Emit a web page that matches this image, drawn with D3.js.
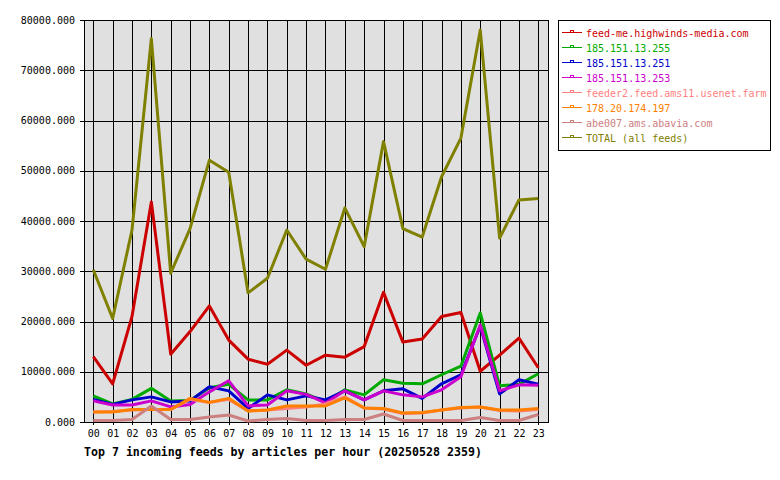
<!DOCTYPE html>
<html>
<head>
<meta charset="utf-8">
<script src="https://cdn.jsdelivr.net/npm/d3@7"></script>
<style>
  body { margin: 0; background: #fff; }
  svg { display: block; }
  text { font-family: "DejaVu Sans Mono", monospace; }
</style>
</head>
<body>
<svg width="780" height="480"></svg>
<script>
const hours = ['00','01','02','03','04','05','06','07','08','09','10','11',
               '12','13','14','15','16','17','18','19','20','21','22','23'];

const feedNames = ['feed-me.highwinds-media.com', '185.151.13.255', '185.151.13.251',
                   '185.151.13.253', 'feeder2.feed.ams11.usenet.farm', '178.20.174.197',
                   'abe007.ams.abavia.com', 'TOTAL (all feeds)'];
const feedColors = ['#cc0000', '#00aa00', '#0000cc', '#cc00cc', '#ff8080', '#ff8000', '#cc8080', '#808000'];

const highwinds = [13000, 7600, 21000, 43800, 13500, 18000, 23100, 16300, 12500, 11500, 14300, 11300,
                   13300, 12900, 15000, 25800, 15900, 16500, 21000, 21800, 10100, 13300, 16700, 10800];
const ip255 = [5200, 3600, 4500, 6700, 4200, 4300, 6800, 7500, 4400, 4400, 6400, 5600,
               4000, 6400, 5400, 8400, 7700, 7600, 9400, 11100, 21700, 7200, 7500, 9600];
const ip251 = [4500, 3500, 4400, 5000, 4000, 4200, 7000, 6200, 2700, 5400, 4400, 5200,
               4400, 6200, 4400, 6200, 6600, 4700, 7600, 9400, 19100, 5600, 8400, 7500];
const ip253 = [4200, 3400, 3400, 4200, 3000, 3500, 6000, 8200, 3200, 3400, 6200, 5500,
               3800, 6200, 4400, 6200, 5400, 5000, 6400, 9000, 19300, 6200, 7400, 7300];
const feeder2 = [2000, 2100, 2400, 2500, 2500, 4500, 3900, 4500, 2200, 2400, 2700, 3000,
                 3600, 5000, 2800, 2600, 1700, 1800, 2400, 2800, 3000, 2300, 2200, 2500];
const ip197 = [2000, 2000, 2500, 2500, 2500, 4700, 3900, 4700, 2200, 2400, 3200, 3200,
               3200, 4800, 2800, 2700, 1800, 1900, 2400, 2900, 3000, 2400, 2400, 2700];
const abe007 = [300, 300, 500, 3200, 500, 500, 1000, 1400, 200, 500, 700, 300,
                300, 500, 500, 1600, 300, 300, 300, 300, 900, 300, 300, 1500];
const total = [30300, 20600, 38200, 76300, 29600, 38500, 52100, 49700, 25700, 28600, 38200, 32400,
               30400, 42600, 34900, 55800, 38500, 36800, 48800, 56500, 78000, 36600, 44200, 44500];

const yTicks = [0, 10000, 20000, 30000, 40000, 50000, 60000, 70000, 80000];
const title = 'Top 7 incoming feeds by articles per hour (20250528 2359)';

const series = [highwinds, ip255, ip251, ip253, feeder2, ip197, abe007, total];

const svg = d3.select('svg');
const plotLeft = 84, plotRight = 548, plotTop = 20, plotBottom = 422;

const x = d3.scalePoint()
    .domain(hours)
    .range([93.3, 538.3]);

const y = d3.scaleLinear()
    .domain([0, 80000])
    .range([plotBottom, plotTop]);

// plot background
svg.append('rect')
    .attr('x', plotLeft).attr('y', plotTop)
    .attr('width', plotRight - plotLeft).attr('height', plotBottom - plotTop)
    .attr('fill', '#e0e0e0');

// horizontal grid + y labels
const yAxis = svg.append('g')
    .attr('transform', `translate(${plotLeft},0)`)
    .call(d3.axisLeft(y).tickValues(yTicks).tickFormat(d3.format('.3f'))
        .tickSizeInner(-(plotRight - plotLeft)).tickSizeOuter(0).tickPadding(9));
yAxis.select('.domain').remove();
yAxis.selectAll('line').attr('stroke', '#000').attr('x1', -4).attr('shape-rendering', 'crispEdges');
yAxis.selectAll('text').attr('font-size', 10).attr('fill', '#000')
    .attr('font-family', '"DejaVu Sans Mono", monospace');

// vertical grid + hour labels
const xAxis = svg.append('g')
    .attr('transform', `translate(0,${plotBottom})`)
    .call(d3.axisBottom(x).tickSizeInner(-(plotBottom - plotTop)).tickSizeOuter(0).tickPadding(8));
xAxis.select('.domain').remove();
xAxis.selectAll('line').attr('stroke', '#000').attr('y1', 3).attr('shape-rendering', 'crispEdges');
xAxis.selectAll('text').attr('font-size', 10).attr('fill', '#000')
    .attr('font-family', '"DejaVu Sans Mono", monospace');

// frame
svg.append('rect')
    .attr('x', plotLeft).attr('y', plotTop)
    .attr('width', plotRight - plotLeft).attr('height', plotBottom - plotTop)
    .attr('fill', 'none').attr('stroke', '#000')
    .attr('shape-rendering', 'crispEdges');

// lines
const line = d3.line()
    .x((d, i) => x(hours[i]))
    .y(d => y(d));

svg.append('g').selectAll('path')
    .data(series)
    .join('path')
    .attr('d', line)
    .attr('fill', 'none')
    .attr('stroke', (d, i) => feedColors[i])
    .attr('stroke-width', 3)
    .attr('stroke-linejoin', 'round');

// title
svg.append('text')
    .attr('x', plotLeft).attr('y', 456)
    .attr('font-size', 11.6).attr('font-weight', 'bold')
    .text(title);

// legend
svg.append('rect')
    .attr('x', 558.5).attr('y', 20.5)
    .attr('width', 212).attr('height', 130)
    .attr('fill', '#fff').attr('stroke', '#000');

const legend = svg.append('g').selectAll('g')
    .data(feedNames)
    .join('g')
    .attr('transform', (d, i) => `translate(0,${32.5 + i * 15})`);

legend.append('line')
    .attr('x1', 562).attr('x2', 582)
    .attr('stroke', (d, i) => feedColors[i])
    .attr('shape-rendering', 'crispEdges');
legend.append('rect')
    .attr('x', 570.5).attr('y', -2.5).attr('width', 3).attr('height', 2)
    .attr('fill', 'none')
    .attr('stroke', (d, i) => feedColors[i])
    .attr('shape-rendering', 'crispEdges');
legend.append('text')
    .attr('x', 586).attr('y', 4)
    .attr('font-size', 10)
    .attr('fill', (d, i) => feedColors[i])
    .text(d => d);
</script>
</body>
</html>
